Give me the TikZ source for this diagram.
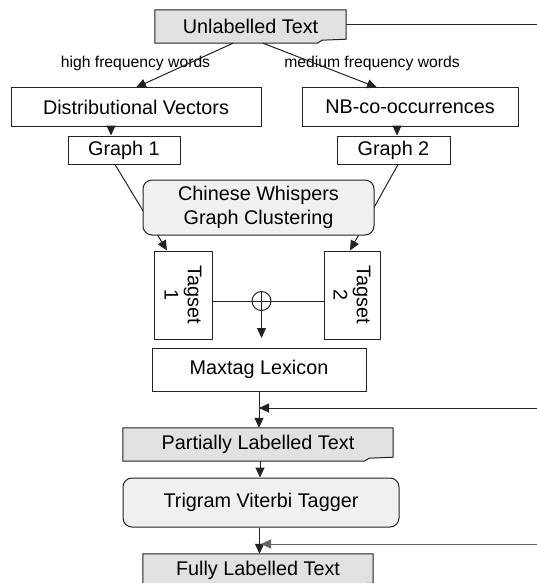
\documentclass[tikz,border=0pt]{standalone}
\usepackage{fontspec}
\setmainfont{Liberation Sans}
\usetikzlibrary{arrows.meta,calc,backgrounds}

\definecolor{docfill}{HTML}{E1E1E1}
\definecolor{procfill}{HTML}{F0F0F0}
\definecolor{linegray}{HTML}{222222}

% outline of a text document, with its corner turned up
\newcommand{\docoutline}[1]{%
	\begin{scope}[on background layer]
	\filldraw[fill=docfill, draw=linegray, line width=1pt] (#1.north west) -- (#1.north east)
		-- ($(#1.south east)+(0,-4)$) -- ($(#1.south east)+(-24,-3)$)
		-- ($(#1.south east)+(-29,0)$) -- (#1.south west) -- cycle;
	\end{scope}}

\begin{document}
\begin{tikzpicture}[x=1pt, y=-1pt,
	font=\fontsize{19.8pt}{23.3pt}\selectfont,
	box/.style={draw=linegray, line width=1pt, inner sep=0pt, align=center},
	doc/.style={inner sep=0pt, minimum height=33pt},
	proc/.style={box, fill=procfill, rounded corners=9pt},
	arr/.style={-{Triangle[length=10pt,width=9pt]}, draw=linegray, line width=1pt},
	lbl/.style={font=\fontsize{15.7pt}{18pt}\selectfont}]
	\useasboundingbox (0,0) rectangle (537,583);
	
	% input and the two feature sets
	\node[doc, minimum width=191pt] (ut) at (250.5,26.5) {Unlabelled Text};
	\docoutline{ut}
	\node[box, minimum width=250pt, minimum height=38pt] (dv) at (136,107) {Distributional Vectors};
	\node[box, minimum width=216pt, minimum height=38pt] (nb) at (410,107) {NB-co-occurrences};
	\node[box, minimum width=112pt, minimum height=28pt] (g1) at (124,150) {Graph 1};
	\node[box, minimum width=113pt, minimum height=28pt] (g2) at (393.5,150) {Graph 2};
	
	\node[lbl] (hfw) at (135.5,63) {high frequency words};
	\node[lbl] (mfw) at (372,63) {medium frequency words};
	
	\draw[arr] ($(ut.south)+(-17.5,0)$) -- (dv.north);
	\draw[arr] ($(ut.south)+(12.5,0)$) -- ($(nb.north)+(-33,0)$);
	\draw[arr] ($(dv.south)+(-25,0)$) -- ($(g1.north)+(-13,0)$);
	\draw[arr] ($(nb.south)+(-13,0)$) -- ($(g2.north)+(3.5,0)$);
	
	\coordinate (feed0) at (537,25);
	\draw[linegray, line width=1pt] (feed0 -| ut.east) -- (feed0);
	
	% clustering into two tagsets
	\node[box, minimum width=58pt, minimum height=88pt] (t1) at (183,295) {};
	\node[box, minimum width=56pt, minimum height=88pt] (t2) at (352,295) {};
	\node[rotate=-90, align=center] (t1txt) at (t1) {Tagset\\1};
	\node[rotate=-90, align=center] (t2txt) at (t2) {Tagset\\2};
	
	\draw[arr] ($(g1.south)+(-9,0)$) -- ($(t1.north)+(-16,0)$);
	\draw[arr] ($(g2.south)+(4.5,0)$) -- ($(t2.north)+(-2,0)$);
	\node[proc, minimum width=231pt, minimum height=55pt] (cw) at (258.5,207.5) {Chinese Whispers\\Graph Clustering};
	
	\node[circle, draw=linegray, line width=1pt, minimum size=19pt, inner sep=0pt] (op) at (261.5,301) {};
	\draw[linegray, line width=1pt] (op -| t1.east) -- (op -| t2.west);
	\coordinate (opend) at (261.5,338);
	\draw[arr] (op.north) -- (opend);
	
	% lexicon and tagging
	\node[box, minimum width=214pt, minimum height=43pt] (ml) at (259,369.5) {Maxtag Lexicon};
	\node[doc, minimum width=270pt] (pl) at (258,444.5) {Partially Labelled Text};
	\docoutline{pl}
	\node[proc, minimum width=276pt, minimum height=49pt] (tv) at (261,502.5) {Trigram Viterbi Tagger};
	\node[doc, minimum width=230pt] (fl) at (258,570.5) {Fully Labelled Text};
	\docoutline{fl}
	
	\draw[arr] (ml.south) -- (ml.south |- pl.north);
	\coordinate (feed1) at (537,408);
	\draw[arr] (feed1) -- (feed1 -| ml.south);
	\draw[arr] ($(pl.south)+(2,0)$) -- ($(tv.north)+(-1,0)$);
	\draw[arr] ($(tv.south)+(-1.5,0)$) -- ($(fl.north)+(1.5,0)$);
	\coordinate (feed2) at (537,544);
	\draw[arr, draw=linegray!70] (feed2) -- (feed2 -| tv.south);
	
\end{tikzpicture}
\end{document}
